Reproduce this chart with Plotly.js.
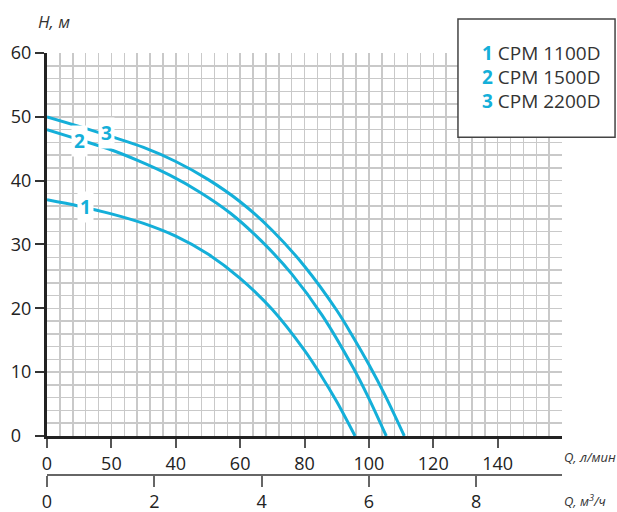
<!DOCTYPE html>
<html>
<head>
<meta charset="utf-8">
<script src="https://cdn.plot.ly/plotly-3.0.1.min.js"></script>
<style>html,body{margin:0;padding:0;background:#fff;}#chart{width:617px;height:512px;}</style>
</head>
<body>
<div id="chart"></div>
<script>
// Flow Q (l/min) and head H (m) for each pump
const q1 = [0, 10, 20, 30, 40, 50, 60, 70, 80, 85, 90, 95.7];
const h1 = [37, 36.0, 34.8, 33.3, 31.3, 28.5, 24.7, 19.8, 13.4, 9.6, 5.4, 0];
const q2 = [0, 9.5, 19, 28.5, 38, 47.5, 57, 66.5, 76, 85.5, 95, 99.8, 105.4];
const h2 = [48, 46.5, 45.0, 43.1, 40.9, 38.2, 34.9, 30.6, 25.4, 18.9, 10.8, 6.1, 0];
const q3 = [0, 10, 20, 30, 40, 50, 60, 70, 80, 90, 95, 100, 105, 111];
const h3 = [50, 48.5, 46.9, 45.2, 43.0, 40.2, 36.7, 32.2, 26.6, 19.7, 15.6, 11.2, 6.4, 0];

const curveLabels = ['1', '2', '3'];
const curveLabelQ = [12, 10, 18.6];
const curveLabelH = [35.9, 46.2, 47.4];

const legendNums = ['1', '2', '3'];
const legendNames = ['CPM 1100D', 'CPM 1500D', 'CPM 2200D'];

const xTickVals = [0, 20, 40, 60, 80, 100, 120, 140];
const xTickText = ['0', '50', '40', '60', '80', '100', '120', '140'];
const yTickVals = [0, 10, 20, 30, 40, 50, 60];
const yTickText = ['0\u2007', '10', '20', '30', '40', '50', '60'];
const x2TickVals = [0, 2, 4, 6, 8];
const x2TickText = ['0', '2', '4', '6', '8'];

const CYAN = '#14afd9';
const FONT = 'Open Sans, sans-serif';
const GRID = '#c9c9c9';

const mkLine = (x, y) => ({
  x: x, y: y, type: 'scatter', mode: 'lines',
  line: {color: CYAN, width: 3, shape: 'spline', smoothing: 1},
  hoverinfo: 'skip', showlegend: false, xaxis: 'x', yaxis: 'y'
});

const traces = [
  mkLine(q1, h1), mkLine(q2, h2), mkLine(q3, h3),
  {x: [0, 9.6], y: [null, null], type: 'scatter', mode: 'lines', xaxis: 'x2', yaxis: 'y',
   hoverinfo: 'skip', showlegend: false}
];

const annotations = [];
for (let i = 0; i < curveLabels.length; i++) {
  annotations.push({
    x: curveLabelQ[i], y: curveLabelH[i], xref: 'x', yref: 'y',
    text: '<b>' + curveLabels[i] + '</b>', showarrow: false,
    font: {family: FONT, size: 19, color: CYAN},
    bgcolor: '#ffffff', borderpad: 2
  });
}
for (let i = 0; i < legendNames.length; i++) {
  annotations.push({
    x: 0.84, y: 0.999 - i * 0.057, xref: 'paper', yref: 'paper',
    xanchor: 'left', yanchor: 'middle', showarrow: false,
    text: '<b><span style="color:' + CYAN + '">' + legendNums[i] + '</span></b> ' + legendNames[i],
    font: {family: FONT, size: 19, color: '#333333'}
  });
}
annotations.push({
  x: -0.022, y: 1.0, xref: 'paper', yref: 'paper', xanchor: 'left', yanchor: 'middle',
  yshift: 32, showarrow: false, text: '<i>H, м</i>',
  font: {family: FONT, size: 17, color: '#333333'}
});
annotations.push({
  x: 1.0, y: 0.0903, xref: 'paper', yref: 'paper', xanchor: 'left', yanchor: 'middle',
  xshift: 0, yshift: -21, showarrow: false, text: '<i>Q, л/мин</i>',
  font: {family: FONT, size: 13, color: '#333333'}
});
annotations.push({
  x: 1.0, y: 0, xref: 'paper', yref: 'paper', xanchor: 'left', yanchor: 'middle',
  xshift: 0, yshift: -26, showarrow: false, text: '<i>Q, м<sup>3</sup>/ч</i>',
  font: {family: FONT, size: 13, color: '#333333'}
});

const layout = {
  width: 617, height: 512,
  margin: {l: 47, r: 55, t: 53, b: 38},
  paper_bgcolor: '#ffffff', plot_bgcolor: '#ffffff',
  font: {family: FONT, size: 18, color: '#222222'},
  showlegend: false,
  xaxis: {
    range: [0, 160], anchor: 'y', tickmode: 'array', tickvals: xTickVals, ticktext: xTickText,
    ticks: 'outside', ticklen: 9, tickwidth: 2, tickcolor: '#555555',
    showline: true, linecolor: '#222222', linewidth: 3,
    showgrid: true, gridcolor: GRID, gridwidth: 1.5, zeroline: false,
    minor: {dtick: 4, tick0: 0, showgrid: true, gridcolor: GRID, gridwidth: 1.5, ticks: ''},
    tickfont: {family: FONT, size: 18, color: '#222222'}
  },
  xaxis2: {
    range: [0, 9.6], overlaying: 'x', anchor: 'free', position: 0, side: 'bottom',
    tickmode: 'array', tickvals: x2TickVals, ticktext: x2TickText,
    ticks: 'outside', ticklen: 11, tickwidth: 2, tickcolor: '#666666',
    showline: true, linecolor: '#666666', linewidth: 1.5,
    showgrid: false, zeroline: false,
    tickfont: {family: FONT, size: 18, color: '#222222'}
  },
  yaxis: {
    range: [0, 60], domain: [0.0903, 1], tickmode: 'array', tickvals: yTickVals, ticktext: yTickText,
    ticks: 'outside', ticklen: 9, tickwidth: 2, tickcolor: '#333333',
    showline: true, linecolor: '#222222', linewidth: 3,
    showgrid: true, gridcolor: GRID, gridwidth: 1.5, zeroline: false,
    minor: {dtick: 2, tick0: 0, showgrid: true, gridcolor: GRID, gridwidth: 1.5, ticks: ''},
    tickfont: {family: FONT, size: 18, color: '#222222'}
  },
  shapes: [{
    type: 'rect', xref: 'paper', yref: 'paper', layer: 'above',
    x0: 0.798, x1: 1.103, y0: 0.800, y1: 1.081,
    fillcolor: '#ffffff', line: {color: '#444444', width: 1.5}
  }],
  annotations: annotations
};

Plotly.newPlot('chart', traces, layout, {staticPlot: true, displayModeBar: false});
</script>
</body>
</html>
